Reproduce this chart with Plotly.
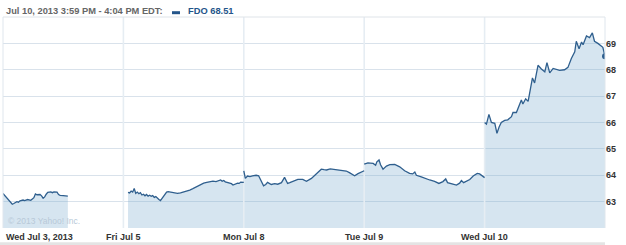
import plotly.graph_objects as go

# ---------------- data ----------------
DAY_MINUTES = 390  # 9:30 -> 16:00
day_labels = ["Wed Jul 3, 2013", "Fri Jul 5", "Mon Jul 8", "Tue Jul 9", "Wed Jul 10"]
y_ticks = [63, 64, 65, 66, 67, 68, 69]
ticker = "FDO"
last_price = 68.51
header_text = "Jul 10, 2013 3:59 PM - 4:04 PM EDT:"

# minutes after the 9:30 open, and prices
jul03_min = [0, 10, 15, 25, 30, 35, 40, 45, 50, 55, 65, 70, 80, 90, 95, 100, 105, 110, 120, 125,
             130, 135, 140, 145, 155, 160, 165, 175, 180, 185, 195, 205, 210]
jul03_px = [63.31, 63.18, 63.10, 62.95, 62.90, 62.93, 62.97, 63.00, 62.98, 63.03, 63.06, 63.04, 63.08,
            63.05, 63.10, 63.15, 63.29, 63.26, 63.27, 63.22, 63.13, 63.18, 63.28, 63.35, 63.37, 63.34,
            63.37, 63.36, 63.27, 63.24, 63.23, 63.21, 63.21]

jul05_min = [15, 20, 25, 30, 35, 40, 45, 50, 55, 60, 65, 70, 75, 80, 85, 90, 95, 100, 105, 110, 115,
             120, 125, 130, 140, 145, 155, 165, 175, 185, 195, 205, 215, 225, 235, 240, 250, 260, 270,
             280, 290, 300, 310, 315, 320, 325, 330, 340, 350, 355, 360, 370, 375, 380, 390]
jul05_px = [63.35, 63.33, 63.40, 63.36, 63.50, 63.31, 63.36, 63.30, 63.34, 63.25, 63.28, 63.22, 63.27,
            63.21, 63.24, 63.20, 63.23, 63.16, 63.19, 63.12, 63.08, 63.04, 63.12, 63.20, 63.36, 63.38,
            63.35, 63.33, 63.31, 63.33, 63.36, 63.41, 63.44, 63.49, 63.55, 63.58, 63.65, 63.70, 63.73,
            63.76, 63.78, 63.76, 63.79, 63.82, 63.77, 63.80, 63.75, 63.72, 63.68, 63.63, 63.66, 63.70,
            63.69, 63.74, 63.73]

jul08_min = [0, 5, 12, 20, 28, 40, 48, 57, 64, 71, 77, 89, 100, 110, 122, 132, 142, 149, 158, 167,
             175, 191, 203, 219, 235, 251, 260, 268, 280, 289, 300, 311, 322, 332, 342, 349, 359, 370,
             380, 390]
jul08_px = [64.17, 63.88, 63.97, 63.95, 63.98, 64.00, 63.98, 63.75, 63.60, 63.65, 63.73, 63.65, 63.68,
            63.66, 63.72, 63.92, 63.69, 63.72, 63.77, 63.80, 63.84, 63.84, 63.77, 63.88, 64.05, 64.23,
            64.21, 64.20, 64.24, 64.23, 64.21, 64.20, 64.19, 64.16, 64.10, 64.05, 63.98, 64.06, 64.12,
            64.17]

jul09_min = [0, 5, 12, 20, 29, 37, 41, 48, 53, 61, 72, 83, 99, 115, 131, 147, 157, 164, 169, 185,
             196, 212, 228, 242, 255, 264, 270, 282, 299, 309, 315, 322, 342, 353, 366, 374, 382, 390]
jul09_px = [64.42, 64.45, 64.47, 64.46, 64.45, 64.38, 64.51, 64.58, 64.40, 64.23, 64.35, 64.40, 64.41,
            64.32, 64.17, 64.07, 64.05, 64.12, 64.00, 63.94, 63.88, 63.82, 63.77, 63.69, 63.76, 63.86,
            63.72, 63.69, 63.63, 63.70, 63.80, 63.72, 63.84, 63.97, 64.07, 64.05, 63.98, 63.91]

jul10_min = [0, 6, 14, 22, 33, 40, 47, 54, 65, 75, 87, 92, 103, 114, 119, 124, 133, 141, 146, 155,
             162, 173, 184, 195, 202, 211, 222, 232, 243, 259, 270, 281, 292, 297, 306, 314, 319, 330,
             340, 349, 356, 367, 378, 383, 390]
jul10_px = [66.00, 65.94, 66.31, 66.00, 65.97, 65.59, 65.83, 66.00, 66.08, 66.10, 66.22, 66.38, 66.38,
            66.66, 66.85, 66.70, 66.90, 66.80, 67.17, 67.69, 67.50, 68.17, 68.03, 67.92, 68.27, 67.88,
            68.05, 68.02, 67.98, 68.00, 68.09, 68.43, 68.68, 69.08, 68.80, 69.05, 68.95, 69.28, 69.22,
            69.40, 69.08, 69.00, 68.90, 68.85, 68.51]

# ---------------- build ----------------
days = [(0, jul03_min, jul03_px), (1, jul05_min, jul05_px), (2, jul08_min, jul08_px),
        (3, jul09_min, jul09_px), (4, jul10_min, jul10_px)]

def sess(day_idx, mins):
    return [day_idx * DAY_MINUTES + m for m in mins]

LINE = "#2f5f8e"
FILL = "rgba(118,168,205,0.30)"
SEP = "#e6edf3"
Y0, Y1 = 62, 70
X1 = DAY_MINUTES * len(day_labels)

fig = go.Figure()
for d, mins, px in days:
    fig.add_trace(go.Scatter(x=sess(d, mins), y=px, mode="lines", line=dict(width=0),
                             fill="tozeroy", fillcolor=FILL, hoverinfo="skip", showlegend=False))
# day separators (drawn over the fill, under the price line)
for i in range(1, len(day_labels)):
    fig.add_trace(go.Scatter(x=[i * DAY_MINUTES] * 2, y=[Y0, Y1], mode="lines",
                             line=dict(color=SEP, width=1.6), hoverinfo="skip", showlegend=False))
for d, mins, px in days:
    fig.add_trace(go.Scatter(x=sess(d, mins), y=px, mode="lines",
                             line=dict(color=LINE, width=1.3), showlegend=False))
last_d, last_m, last_p = days[-1]
fig.add_trace(go.Scatter(x=sess(last_d, last_m[-1:]), y=last_p[-1:], mode="markers",
                         marker=dict(color=LINE, size=6), showlegend=False))

FONT = "Liberation Sans, Arial, sans-serif"

fig.update_layout(
    width=626, height=245,
    margin=dict(l=3, r=21, t=17, b=17),
    paper_bgcolor="white", plot_bgcolor="white",
    xaxis=dict(range=[0, X1], showgrid=False, zeroline=False, showticklabels=False,
               ticks="", fixedrange=True),
    yaxis=dict(range=[Y0, Y1], side="right", tickvals=y_ticks, showgrid=True,
               gridcolor="#d9e2eb", gridwidth=1, zeroline=False, ticks="",
               tickfont=dict(family=FONT, size=9, color="#333333", weight="bold")),
)

# borders
fig.add_shape(type="line", xref="paper", yref="paper", x0=0, x1=1, y0=1, y1=1,
              line=dict(color="#dfe4e9", width=1))
fig.add_shape(type="line", xref="paper", yref="paper", x0=0, x1=0, y0=0, y1=1,
              line=dict(color="#dfe6ed", width=1))
fig.add_shape(type="line", xref="paper", yref="paper", x0=1, x1=1, y0=0, y1=1,
              line=dict(color="#dfe6ed", width=1))
# bottom grey band
fig.add_shape(type="rect", xref="paper", yref="paper", x0=-0.006, x1=1.0, y0=-0.081, y1=-0.067,
              line=dict(width=0), fillcolor="#e4e4e4")

# x labels
for i, lab in enumerate(day_labels):
    fig.add_annotation(x=i * DAY_MINUTES, xref="x", y=-0.041, yref="paper", yanchor="middle",
                       xanchor="left" if i == 0 else "center", xshift=1 if i == 0 else 0,
                       text=f"<b>{lab}</b>", showarrow=False,
                       font=dict(family=FONT, size=9, color="#333333"))

# header
fig.add_annotation(x=0.001, xref="paper", y=1.03, yref="paper", xanchor="left", yanchor="middle",
                   text=f"<b>{header_text}</b>", showarrow=False,
                   font=dict(family=FONT, size=9.3, color="#666666"))
fig.add_shape(type="rect", xref="paper", yref="paper", x0=0.2807, x1=0.2940, y0=1.0133, y1=1.0275,
              line=dict(width=0), fillcolor="#24558a")
fig.add_annotation(x=0.3040, xref="paper", y=1.03, yref="paper", xanchor="left", yanchor="middle",
                   text=f"<b>{ticker} {last_price:.2f}</b>", showarrow=False,
                   font=dict(family=FONT, size=9.3, color="#24558a"))
# watermark
fig.add_annotation(x=0.005, xref="paper", y=0.035, yref="paper", xanchor="left", yanchor="middle",
                   text="© 2013 Yahoo! Inc.", showarrow=False,
                   font=dict(family=FONT, size=8.5, color="#b8c9d8"))

fig.write_html("out.html")
